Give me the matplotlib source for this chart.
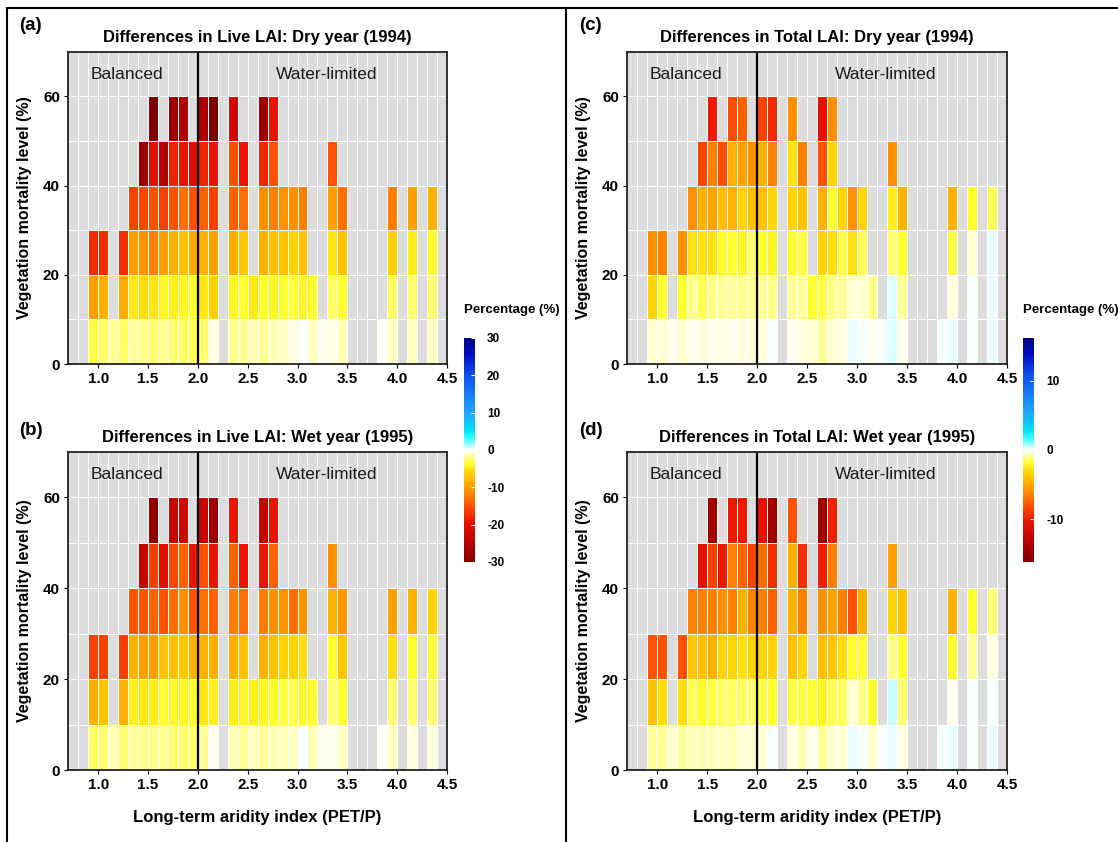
import numpy as np
import matplotlib
matplotlib.use('Agg')
import matplotlib.pyplot as plt
from matplotlib.colors import LinearSegmentedColormap
from matplotlib.lines import Line2D

plt.rcParams['font.family'] = ['Liberation Sans', 'DejaVu Sans']
plt.rcParams['axes.unicode_minus'] = False

N = np.nan

# aridity index bins (PET/P), edges every 0.1, and vegetation mortality classes (%)
aridity_edges = [0.9, 1.0, 1.1, 1.2, 1.3, 1.4, 1.5, 1.6, 1.7, 1.8, 1.9, 2.0,
                 2.1, 2.2, 2.3, 2.4, 2.5, 2.6, 2.7, 2.8, 2.9, 3.0, 3.1, 3.2,
                 3.3, 3.4, 3.5, 3.6, 3.7, 3.8, 3.9, 4.0, 4.1, 4.2, 4.3, 4.4, 4.5]
mortality_edges = [0, 10, 20, 30, 40, 50, 60]

# (a) Live LAI, dry year 1994 -- rows are mortality 0-10 ... 50-60
live_dry = [
    [-3.2, -2.7, -1.7, -2.7, -1.7, -2.0, -2.5, -2.0, -2.5, -2.7,
     -2.9, -2.5, -0.6, N, -2.0, -1.7, -1.3, -1.7, -1.3, -1.0,
     -0.6, 0.0, -1.0, -0.3, -0.6, -1.3, N, N, N, -0.2,
     -1.0, N, -1.0, N, -1.0, N],
    [-10, -8.5, N, -9, -5, -5.5, -5, -4.2, -4.6, -4.2,
     -3.6, -5, -6.3, N, -4.2, -3.6, -5, -3.6, -4.2, -3.6,
     -3.4, -4.2, -3.6, N, -2.7, -3.6, N, N, N, N,
     -2.7, N, -2.5, N, -2.5, N],
    [-17.5, -17.5, N, -17.5, -10, -11, -12, -10, -8.5, -7.5,
     -9, -8.5, -10, N, -8.5, -7, N, -8.5, -7.5, -7.5,
     -6.3, -7.5, N, N, -5, -7.5, N, N, N, N,
     -6.3, N, -4.6, N, -3.6, N],
    [N, N, N, N, -16, -15.5, -15, -16, -15, -13,
     -15, -14, -16, N, -14, -13, N, -11, -12, -11,
     -11, -12, N, N, -10, -13, N, N, N, N,
     -12, N, -10, N, -8.5, N],
    [N, N, N, N, N, -27, -20, -25, -18, -19,
     -20.5, -18, -19, N, -15, -19, N, -18, -15, N,
     N, N, N, N, -15, N, N, N, N, N,
     N, N, N, N, N, N],
    [N, N, N, N, N, N, -30, N, -27, -25.5,
     N, -26, -30, N, -22, N, N, -27, -19, N,
     N, N, N, N, N, N, N, N, N, N,
     N, N, N, N, N, N],
]

# (b) Live LAI, wet year 1995
live_wet = [
    [-2.7, -2.5, -1.3, -2.5, -1.7, -2.0, -2.0, -2.0, -2.5, -2.5,
     -2.7, -1.7, -0.3, N, -1.3, -1.7, -1.0, -1.7, -1.3, -1.3,
     -1.0, 0.0, -1.3, -0.3, -0.3, -1.0, N, N, N, -0.2,
     -1.0, N, -0.6, N, -0.6, N],
    [-8.5, -7.5, N, -8.5, -4.6, -5, -4.6, -3.6, -4.2, -4.2,
     -3.6, -5, -4.6, N, -4.6, -4.2, -4.6, -4.2, -3.6, -3.2,
     -2.9, -4.2, -3.6, N, -2.5, -3.6, N, N, N, N,
     -2.5, N, -2.5, N, -2.5, N],
    [-16, -16, N, -16, -8.5, -10, -10, -7.5, -7.5, -7,
     -8.5, -8.5, -8.5, N, -8.5, -7.5, N, -8.5, -7.5, -6.3,
     -6.3, -5.5, N, N, -3.6, -7, N, N, N, N,
     -5.5, N, -3.6, N, -3.4, N],
    [N, N, N, N, -15, -15, -14, -15, -13, -11,
     -15, -13, -14, N, -12, -13, N, -12, -11, -11,
     -13, -11, N, N, -8.5, -10.5, N, N, N, N,
     -10, N, -8.5, N, -6, N],
    [N, N, N, N, N, -23, -16, -20, -15.5, -14,
     -19, -15, -19, N, -14, -19, N, -19, -14, N,
     N, N, N, N, -11, N, N, N, N, N,
     N, N, N, N, N, N],
    [N, N, N, N, N, N, -28.5, N, -23, -22,
     N, -23, -27, N, -19, N, N, -23, -19, N,
     N, N, N, N, N, N, N, N, N, N,
     N, N, N, N, N, N],
]

# (c) Total LAI, dry year 1994
total_dry = [
    [-0.5, -0.5, -0.15, -0.5, -0.15, -0.3, -0.25, -0.3, -0.25, -0.3,
     -0.3, -0.3, 0.0, N, -0.25, -0.3, -0.5, -0.9, -0.5, -0.3,
     0.25, 0.12, -0.15, 0.12, 0.35, -0.15, N, N, N, 0.0,
     0.25, N, 0.0, N, 0.25, N],
    [-3.2, -1.9, N, -1.9, -1.05, -1.55, -1.05, -0.9, -0.9, -1.05,
     -0.9, -0.9, -1.05, N, -0.9, -0.9, -1.9, -1.7, -1.05, -0.9,
     -0.5, -0.5, -1.05, N, 0.35, -0.9, N, N, N, N,
     -0.3, N, 0.0, N, 0.2, N],
    [-5.9, -6.4, N, -5.9, -2.8, -2.8, -2.8, -1.9, -1.9, -2.2,
     -1.3, -1.9, -2.2, N, -1.9, -1.7, N, -3.2, -3.0, -1.7,
     -2.8, -1.55, N, N, -1.3, -1.9, N, N, N, N,
     -1.7, N, -0.5, N, 0.2, N],
    [N, N, N, N, -5.9, -4.6, -5.3, -4.0, -4.6, -3.2,
     -4.0, -4.0, -3.2, N, -3.2, -4.0, N, -4.6, -1.9, -3.2,
     -5.9, -3.2, N, N, -2.5, -4.6, N, N, N, N,
     -4.6, N, -1.9, N, -1.55, N],
    [N, N, N, N, N, -8.5, -6.4, -8.2, -4.6, -5.3,
     -5.9, -4.6, -6.4, N, -2.8, -6.4, N, -8.0, -3.2, N,
     N, N, N, N, -5.9, N, N, N, N, N,
     N, N, N, N, N, N],
    [N, N, N, N, N, N, -10.0, N, -8.2, -7.5,
     N, -8.5, -9.5, N, -5.9, N, N, -10.4, -5.9, N,
     N, N, N, N, N, N, N, N, N, N,
     N, N, N, N, N, N],
]

# (d) Total LAI, wet year 1995
total_wet = [
    [-0.9, -0.9, -0.5, -0.9, -0.7, -0.7, -0.7, -0.6, -0.7, -0.5,
     -0.5, -0.4, 0.0, N, -0.3, -0.7, -0.2, -0.9, -0.5, -0.5,
     0.25, 0.05, -0.5, 0.1, 0.25, -0.3, N, N, N, 0.0,
     0.25, N, 0.0, N, 0.25, N],
    [-4.0, -3.0, N, -3.0, -1.55, -1.9, -1.7, -1.45, -1.45, -1.45,
     -1.3, -1.7, -1.9, N, -1.7, -1.7, -1.9, -2.2, -1.55, -1.45,
     -0.5, -1.05, -1.9, N, 0.45, -1.3, N, N, N, N,
     -0.2, N, 0.0, N, 0.1, N],
    [-8.0, -8.0, N, -8.0, -3.7, -4.0, -4.6, -3.2, -3.2, -2.8,
     -3.2, -3.2, -3.2, N, -4.0, -3.2, N, -4.0, -3.7, -3.0,
     -1.9, -1.9, N, N, -1.05, -1.9, N, N, N, N,
     -1.9, N, -0.9, N, -0.3, N],
    [N, N, N, N, -6.4, -6.4, -6.4, -5.9, -6.4, -4.6,
     -6.4, -6.4, -7.5, N, -4.6, -6.4, N, -5.9, -5.3, -6.4,
     -8.0, -4.6, N, N, -3.2, -4.0, N, N, N, N,
     -4.6, N, -1.9, N, -1.3, N],
    [N, N, N, N, N, -10.4, -8.5, -10.0, -6.4, -7.5,
     -8.5, -7.0, -9.3, N, -4.6, -9.3, N, -9.8, -6.4, N,
     N, N, N, N, -5.3, N, N, N, N, N,
     N, N, N, N, N, N],
    [N, N, N, N, N, N, -14.4, N, -10.0, -10.0,
     N, -10.4, -14.4, N, -8.0, N, N, -14.4, -9.8, N,
     N, N, N, N, N, N, N, N, N, N,
     N, N, N, N, N, N],
]

# colour scale: dark red -> orange -> yellow -> white -> cyan -> navy
cmap = LinearSegmentedColormap.from_list('lai_diff', [
    (0.000, '#800000'), (0.075, '#b00000'), (0.175, '#e81000'),
    (0.250, '#ff5000'), (0.335, '#ffa000'), (0.395, '#ffd000'),
    (0.440, '#ffff30'), (0.500, '#ffffff'), (0.550, '#40ffff'),
    (0.590, '#00e0ff'), (0.665, '#20a8ff'), (0.835, '#1050f0'),
    (0.925, '#0010c0'), (1.000, '#000080')])

W, H = 1118, 842
fig = plt.figure(figsize=(W / 100, H / 100), dpi=100)


def px_rect(x0, y0, x1, y1):
    return [x0 / W, 1 - y1 / H, (x1 - x0) / W, (y1 - y0) / H]


def draw_panel(rect, data, title, vlim, xlabel):
    ax = fig.add_axes(rect)
    ax.set_facecolor('#dddddd')
    vals = np.ma.masked_invalid(np.array(data, dtype=float))
    mesh = ax.pcolormesh(aridity_edges, mortality_edges, vals, cmap=cmap,
                         vmin=-vlim, vmax=vlim, edgecolors='white', linewidth=0.4)
    ax.set_xlim(0.7, 4.5)
    ax.set_ylim(0, 70)
    ax.set_xticks([1.0, 1.5, 2.0, 2.5, 3.0, 3.5, 4.0, 4.5])
    ax.set_xticklabels(['1.0', '1.5', '2.0', '2.5', '3.0', '3.5', '4.0', '4.5'])
    ax.set_xticks([0.8] + aridity_edges[:-1], minor=True)
    ax.set_yticks([0, 20, 40, 60])
    ax.set_yticks([10, 30, 50], minor=True)
    ax.grid(which='both', color='white', linewidth=0.7)
    ax.set_axisbelow(True)
    ax.tick_params(which='minor', length=0)
    ax.tick_params(which='major', length=3, width=0.8, labelsize=11, pad=3)
    for lab in ax.get_xticklabels() + ax.get_yticklabels():
        lab.set_fontweight('bold')
    for sp in ax.spines.values():
        sp.set_linewidth(1.3)
        sp.set_color('#222222')
    ax.axvline(2.0, color='black', linewidth=1.6)
    ax.text(1.29, 65, 'Balanced', ha='center', va='center', fontsize=12.5,
            color='#1a1a1a')
    ax.text(3.29, 65, 'Water-limited', ha='center', va='center', fontsize=12.5,
            color='#1a1a1a')
    ax.set_title(title, fontsize=12, fontweight='bold', pad=7)
    ax.set_ylabel('Vegetation mortality level (%)', fontsize=11.5, fontweight='bold')
    ax.yaxis.set_label_coords(-0.095, 0.5)
    if xlabel:
        ax.set_xlabel('Long-term aridity index (PET/P)', fontsize=12, fontweight='bold')
        ax.xaxis.set_label_coords(0.5, -0.125)
    return mesh


m_a = draw_panel(px_rect(68.3, 51.7, 447, 364), live_dry,
                 'Differences in Live LAI: Dry year (1994)', 30, False)
draw_panel(px_rect(68.3, 451.7, 447, 770), live_wet,
           'Differences in Live LAI: Wet year (1995)', 30, True)
m_c = draw_panel(px_rect(627.3, 51.7, 1007, 364), total_dry,
                 'Differences in Total LAI: Dry year (1994)', 16.2, False)
draw_panel(px_rect(627.3, 451.7, 1007, 770), total_wet,
           'Differences in Total LAI: Wet year (1995)', 16.2, True)

# colour bars
for mesh, x0, ticks in [(m_a, 464, [-30, -20, -10, 0, 10, 20, 30]),
                        (m_c, 1023.3, [-10, 0, 10])]:
    cax = fig.add_axes(px_rect(x0, 338, x0 + 10.5, 562))
    cb = fig.colorbar(mesh, cax=cax, ticks=ticks)
    cb.outline.set_visible(False)
    cax.tick_params(length=3, color='white', direction='in', width=0.8,
                    labelsize=8.5, pad=9)
    for lab in cax.get_yticklabels():
        lab.set_fontweight('bold')
    fig.text(x0 / W, 1 - 310 / H, 'Percentage (%)', ha='left', va='center',
             fontsize=9.5, fontweight='bold')

# panel letters
for s, x, y in [('(a)', 19, 25), ('(b)', 19, 430), ('(c)', 579, 25), ('(d)', 579, 430)]:
    fig.text(x / W, 1 - y / H, s, ha='left', va='center', fontsize=13.5,
             fontweight='bold')

# outer frame and divider
frame_kw = dict(color='black', linewidth=1.5, transform=fig.transFigure)
fig.add_artist(Line2D([7 / W, 7 / W], [0, 1 - 8 / H], **frame_kw))
fig.add_artist(Line2D([7 / W, 1], [1 - 8 / H, 1 - 8 / H], **frame_kw))
fig.add_artist(Line2D([566 / W, 566 / W], [0, 1 - 8 / H], **frame_kw))

fig.savefig('out.png', dpi=100, facecolor='white')
